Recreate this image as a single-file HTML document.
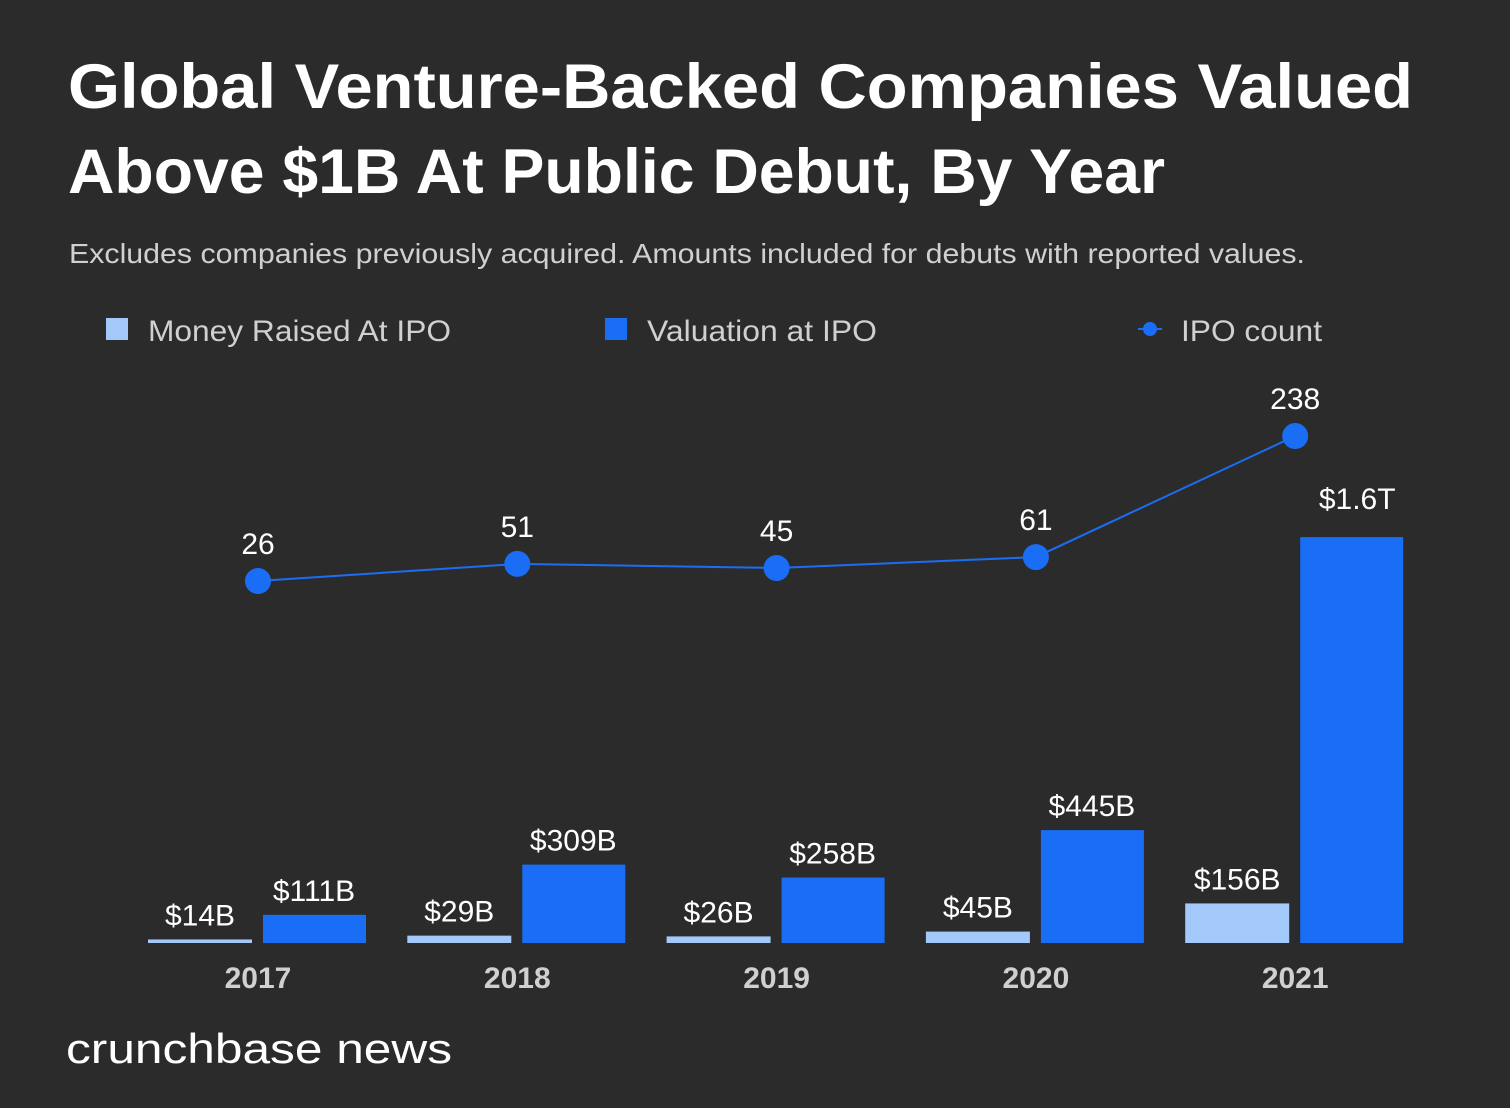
<!DOCTYPE html>
<html><head><meta charset="utf-8"><style>
body{margin:0;background:#2b2b2b;}
svg{display:block;font-family:"Liberation Sans",sans-serif;}
</style></head><body>
<svg id="chart" width="1510" height="1108" viewBox="0 0 1510 1108">
<rect width="1510" height="1108" fill="#2b2b2b"/>
<text x="68" y="108" fill="#fff" font-size="63" font-weight="bold" textLength="1345" lengthAdjust="spacingAndGlyphs">Global Venture-Backed Companies Valued</text>
<text x="68" y="193" fill="#fff" font-size="63" font-weight="bold" textLength="1097" lengthAdjust="spacingAndGlyphs">Above $1B At Public Debut, By Year</text>
<text x="69" y="263" fill="#d0d0d0" font-size="28" textLength="1236" lengthAdjust="spacingAndGlyphs">Excludes companies previously acquired. Amounts included for debuts with reported values.</text>
<g>
<rect x="106" y="318" width="22" height="22" fill="#a3c9fb"/>
<text x="148" y="341" fill="#d0d0d0" font-size="30" textLength="303" lengthAdjust="spacingAndGlyphs">Money Raised At IPO</text>
<rect x="605" y="318" width="22" height="22" fill="#1a6ef5"/>
<text x="647" y="341" fill="#d0d0d0" font-size="30" textLength="230" lengthAdjust="spacingAndGlyphs">Valuation at IPO</text>
<line x1="1138" y1="329" x2="1162" y2="329" stroke="#1a6ef5" stroke-width="2"/>
<circle cx="1150" cy="329" r="7" fill="#1a6ef5"/>
<text x="1181" y="341" fill="#d0d0d0" font-size="30" textLength="141" lengthAdjust="spacingAndGlyphs">IPO count</text>
</g>
<g id="plot"></g>
<text x="66" y="1063" fill="#fff" font-size="42" textLength="386" lengthAdjust="spacingAndGlyphs">crunchbase news</text>
</svg>
<script>
const years=["2017","2018","2019","2020","2021"];
const moneyRaised=[14,29,26,45,156];
const moneyLabels=["$14B","$29B","$26B","$45B","$156B"];
const valuation=[111,309,258,445,1600];
const valuationLabels=["$111B","$309B","$258B","$445B","$1.6T"];
const ipoCount=[26,51,45,61,238];
const NS="http://www.w3.org/2000/svg";
const g=document.getElementById('plot');
const base=943;
function xc(i){return 258+i*259.3;}
function yb(v){return base-v*0.2537;}
function yl(v){return 598.8-v*0.684;}
function mk(t,a,txt){const e=document.createElementNS(NS,t);for(const k in a)e.setAttribute(k,a[k]);if(txt!==undefined)e.textContent=txt;g.appendChild(e);return e;}
years.forEach((y,i)=>{
 const c=xc(i);
 let r=mk('rect',{x:c-110,y:yb(moneyRaised[i]),width:104,height:base-yb(moneyRaised[i]),fill:'#a3c9fb'});
 
 
 let t=mk('text',{x:c-58,y:yb(moneyRaised[i])-14,fill:'#fff','font-size':30,'text-anchor':'middle'},moneyLabels[i]);
 
 
 r=mk('rect',{x:c+5,y:yb(valuation[i]),width:103,height:base-yb(valuation[i]),fill:'#1a6ef5'});
 
 
 const off = i===years.length-1 ? 28 : 14;
 t=mk('text',{x:c+(i===years.length-1?62:56),y:yb(valuation[i])-off,fill:'#fff','font-size':30,'text-anchor':'middle'},valuationLabels[i]);
 
 
 t=mk('text',{x:c,y:988,fill:'#d0d0d0','font-size':30,'font-weight':'bold','text-anchor':'middle'},y);
 
 
});
const pts=ipoCount.map((v,i)=>xc(i)+','+yl(v)).join(' ');
const pl=mk('polyline',{points:pts,fill:'none',stroke:'#1a6ef5','stroke-width':2});


ipoCount.forEach((v,i)=>{
 const c=mk('circle',{cx:xc(i),cy:yl(v),r:13,fill:'#1a6ef5'});
 
 
 const t=mk('text',{x:xc(i),y:yl(v)-27,fill:'#fff','font-size':30,'text-anchor':'middle'},v);
 
 
});
</script>
</body></html>
